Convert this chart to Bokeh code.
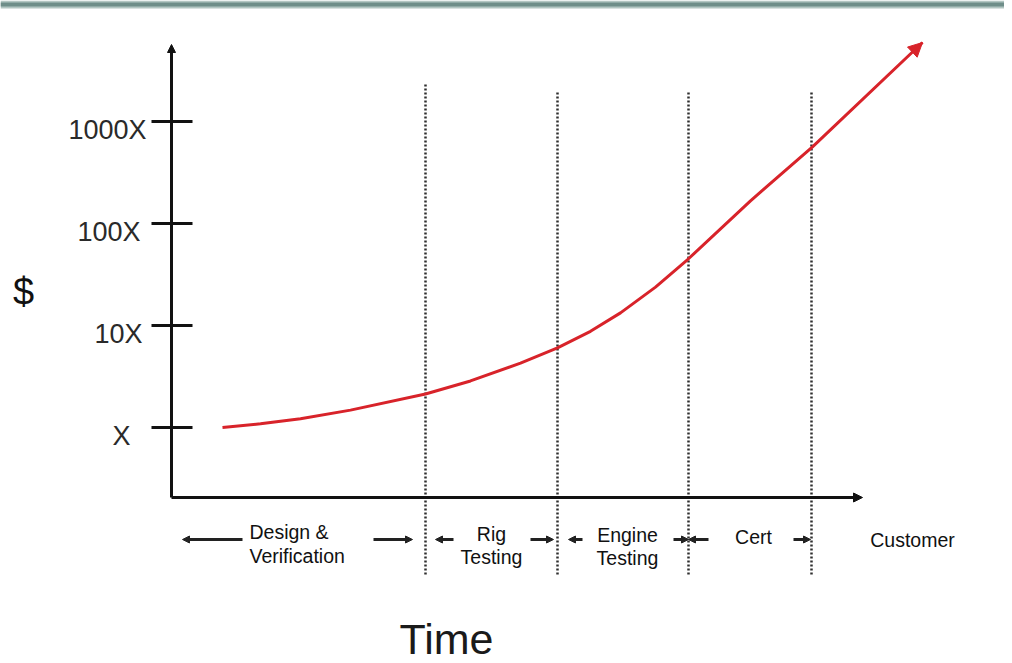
import numpy as np
from bokeh.plotting import figure
from bokeh.models import Range1d, Arrow, NormalHead, ColumnDataSource, BoxAnnotation
from bokeh.core.properties import value
from bokeh.embed import file_html
from bokeh.resources import INLINE

# ---------------- data ----------------
tick_values = [1, 10, 100, 1000]
tick_labels = ["X", "10X", "100X", "1000X"]

phase_line1 = ["Design &", "Rig", "Engine", "Cert", "Customer"]
phase_line2 = ["Verification", "Testing", "Testing", "", ""]

# phase boundaries in time units
boundaries = [254, 386, 517, 640]

# cost curve (time units, cost multiple of X)
curve_time = [51, 89, 129, 179, 254, 299, 349, 386, 419, 449, 484, 517, 579, 641, 751]
curve_cost = [1.0, 1.087, 1.22, 1.48, 2.13, 2.86, 4.28, 6.04, 8.77, 13.3, 23.8, 45.1, 167, 565, 5950]

# ---------------- layout helpers ----------------
W, H = 1004, 663
X0 = 171      # page x of time origin
Y1 = 427      # page y of cost = 1
DEC = 102.0   # pixels per decade
TFIX = 8      # text baseline correction (px)


def tx(xp):
    return xp - X0


def cy(yp):
    return 10 ** ((Y1 - yp) / DEC)


def ct(yp):
    # baseline position for texts
    return cy(yp - TFIX)


FONT = value("Liberation Sans")
INK = "#111111"
RED = "#d8232a"

p = figure(width=W, height=H,
           x_range=Range1d(tx(0), tx(W)),
           y_range=Range1d(cy(H), cy(0)),
           y_axis_type="log",
           x_axis_location=None, y_axis_location=None,
           toolbar_location=None, tools="", output_backend="svg",
           min_border=0)
p.outline_line_color = None
p.background_fill_color = "white"
p.grid.grid_line_color = None
p.grid.visible = False

# decorative band at the top
p.add_layout(BoxAnnotation(bottom=cy(8), top=cy(0), fill_color="#b3c6c2",
                           fill_alpha=1, line_color=None))
p.add_layout(BoxAnnotation(bottom=cy(6), top=cy(2), fill_color="#6f8e89",
                           fill_alpha=1, line_color=None))

# axes with arrow heads
y_origin = cy(497)
p.add_layout(Arrow(x_start=0, y_start=y_origin, x_end=0, y_end=cy(44),
                   line_width=3, line_color=INK,
                   end=NormalHead(size=8, fill_color=INK, line_color=INK)))
p.add_layout(Arrow(x_start=0, y_start=y_origin, x_end=tx(862), y_end=y_origin,
                   line_width=3, line_color=INK,
                   end=NormalHead(size=9, fill_color=INK, line_color=INK)))

# ticks crossing the y axis
p.segment(x0=tx(151), x1=tx(192), y0=tick_values, y1=tick_values,
          line_width=3, line_color=INK)

# tick labels
label_right = [130, 142, 140, 146]
shift = 10 ** ((16.5 - TFIX) / DEC)
p.text(x=[tx(r) for r in label_right], y=[v / shift for v in tick_values],
       text=tick_labels, text_align="right", text_baseline="alphabetic",
       text_font=FONT, text_font_size="27px", text_color="#2a2a2a")

# phase boundaries (dotted)
tops = [84, 92, 92, 92]
p.segment(x0=boundaries, x1=boundaries, y0=cy(574), y1=[cy(t) for t in tops],
          line_width=2.5, line_color="#2e2e2e", line_dash="2 2")

# cost curve
p.line(curve_time, curve_cost, line_width=3, line_color=RED, line_join="round")
p.add_layout(Arrow(x_start=curve_time[-2], y_start=curve_cost[-2],
                   x_end=curve_time[-1], y_end=curve_cost[-1],
                   line_alpha=0, line_width=3,
                   end=NormalHead(size=14, fill_color=RED, line_color=RED)))

# phase span arrows
arrow_tails = [242, 373, 453, 530, 582, 673, 708, 793]
arrow_heads = [182, 412, 435, 553, 568, 688, 688, 810]
arr_y = cy(539)
src = ColumnDataSource(dict(xs=[tx(a) for a in arrow_tails],
                            xe=[tx(a) for a in arrow_heads],
                            y=[arr_y] * len(arrow_tails)))
p.add_layout(Arrow(source=src, x_start="xs", y_start="y", x_end="xe", y_end="y",
                   line_width=3, line_color="#222222",
                   end=NormalHead(size=7, fill_color="#222222", line_color="#222222")))

# phase labels
p.text(x=[tx(249), tx(249)], y=[ct(539), ct(563)],
       text=[phase_line1[0], phase_line2[0]], text_align="left",
       text_baseline="alphabetic", text_font=FONT, text_font_size="19.5px",
       text_color=INK)
centers = [491, 627, 753, 912]
base1 = [541, 542, 544, 547]
base2 = [564, 565]
p.text(x=[tx(c) for c in centers], y=[ct(b) for b in base1],
       text=phase_line1[1:], text_align="center", text_baseline="alphabetic",
       text_font=FONT, text_font_size="19.5px", text_color=INK)
p.text(x=[tx(c) for c in centers[:2]], y=[ct(b) for b in base2],
       text=[t for t in phase_line2[1:] if t], text_align="center",
       text_baseline="alphabetic", text_font=FONT, text_font_size="19.5px",
       text_color=INK)

# axis titles
p.text(x=[tx(23)], y=[ct(299)], text=["$"], text_align="center",
       text_baseline="alphabetic", text_font=FONT, text_font_size="38px",
       text_color=INK)
p.text(x=[tx(446)], y=[ct(646)], text=["Time"], text_align="center",
       text_baseline="alphabetic", text_font=FONT, text_font_size="43px",
       text_color="#1a1a1a")

open("out.html", "w").write(file_html(p, INLINE))
